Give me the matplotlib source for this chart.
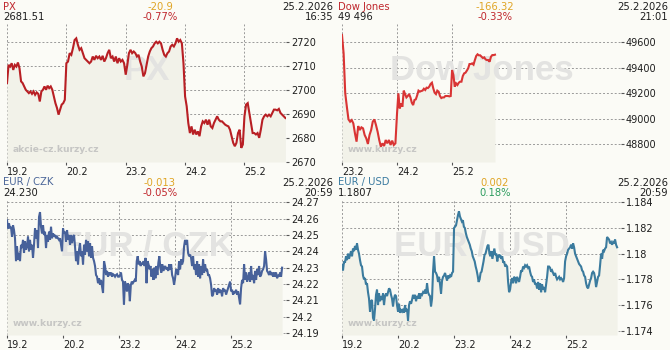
import numpy as np
import matplotlib
matplotlib.use("Agg")
import matplotlib.pyplot as plt
import matplotlib.transforms as mtransforms

# --- PX (one list per trading day) ---
px_days = ["19.2", "20.2", "23.2", "24.2", "25.2"]
px_19 = [2702.8, 2710.4, 2709.7, 2711.1, 2708.3, 2710.4, 2709.7, 2711.4, 2709.0, 2703.5,
         2702.8, 2701.4, 2700.0, 2699.3, 2698.6, 2699.3, 2698.3, 2699.3, 2697.9, 2698.9,
         2698.3, 2695.1, 2699.3, 2700.0, 2701.4, 2700.0, 2701.7, 2700.7, 2701.4, 2700.0,
         2697.2, 2694.4, 2692.4, 2689.6, 2691.7, 2693.8, 2694.4, 2695.8]
px_20 = [2711.1, 2711.8, 2715.3, 2714.6, 2717.4, 2720.8, 2721.5, 2718.8, 2716.7, 2717.4,
         2715.3, 2713.2, 2712.5, 2711.8, 2711.1, 2711.8, 2713.9, 2712.5, 2714.2, 2713.2,
         2713.9, 2712.5, 2714.2, 2711.8, 2713.2, 2715.3, 2716.7, 2713.2, 2713.9, 2711.8,
         2713.9, 2711.1, 2713.2, 2711.8, 2712.5, 2711.1]
px_23 = [2706.3, 2710.4, 2715.3, 2716.7, 2715.3, 2716.0, 2715.3, 2713.9, 2714.6, 2711.8,
         2709.7, 2705.6, 2706.9, 2710.4, 2713.9, 2716.0, 2717.4, 2718.1, 2719.4, 2720.1,
         2719.4, 2720.1, 2719.4, 2716.7, 2714.6, 2713.9, 2715.3, 2716.0, 2718.1, 2718.8,
         2718.1, 2719.4, 2721.5, 2720.1, 2720.8, 2719.4, 2711.1]
px_24 = [2697.2, 2693.1, 2686.1, 2681.9, 2684.7, 2681.3, 2683.3, 2681.3, 2682.6, 2680.6,
         2684.7, 2686.8, 2686.1, 2687.5, 2685.4, 2687.5, 2684.7, 2684.0, 2686.1, 2687.5,
         2688.9, 2687.5, 2686.8, 2686.8, 2686.1, 2685.4, 2685.0, 2684.7, 2683.3, 2680.6,
         2677.8, 2676.4, 2677.8, 2681.9, 2683.3, 2675.7, 2677.1]
px_25 = [2688.9, 2693.8, 2694.4, 2690.3, 2686.1, 2681.9, 2681.9, 2681.3, 2681.9, 2679.9,
         2683.3, 2687.5, 2688.9, 2689.6, 2688.9, 2689.6, 2688.9, 2690.3, 2691.7, 2691.7,
         2691.4, 2692.0, 2690.3, 2689.6, 2688.9, 2688.2]

# --- Dow Jones ---
dj_days = ["23.2", "24.2", "25.2"]
dj_23 = [49655, 49511, 49199, 49094, 48995, 48977, 48990, 48964, 48886, 48821,
         48943, 48912, 48933, 48925, 48873, 48847, 48803, 48873, 48912, 48977,
         48995, 48951, 48899, 48834, 48782, 48808, 48787, 48834, 48808, 48834,
         48795, 48829, 48795, 48808]
dj_24 = [49042, 49199, 49081, 49120, 49094, 49220, 49193, 49167, 49178, 49193,
         49167, 49126, 49107, 49147, 49152, 49183, 49220, 49212, 49217, 49220,
         49235, 49225, 49243, 49240, 49251, 49272, 49282, 49238, 49204, 49193,
         49220, 49212, 49178, 49162, 49167, 49167, 49178, 49178, 49178, 49175, 49178]
dj_25 = [49381, 49342, 49251, 49277, 49264, 49282, 49290, 49290, 49334, 49355,
         49360, 49376, 49394, 49428, 49428, 49433, 49423, 49459, 49491, 49504,
         49496, 49496, 49485, 49475, 49480, 49464, 49459, 49459, 49446, 49485,
         49498, 49498, 49501]

# --- EUR / CZK ---
fx_days = ["19.2", "20.2", "23.2", "24.2", "25.2"]
czk_19 = [24.259, 24.254, 24.257, 24.254, 24.255, 24.249, 24.256, 24.253, 24.248, 24.234,
          24.243, 24.235, 24.239, 24.234, 24.244, 24.242, 24.247, 24.239, 24.246, 24.241,
          24.243, 24.249, 24.240, 24.247, 24.241, 24.244, 24.236, 24.244, 24.254, 24.248,
          24.253, 24.242, 24.261, 24.264, 24.255, 24.251, 24.256, 24.250, 24.252, 24.242,
          24.250, 24.246, 24.252, 24.247, 24.255, 24.248, 24.251, 24.249, 24.250, 24.248,
          24.249, 24.248, 24.247, 24.248, 24.244, 24.240]
czk_20 = [24.254, 24.251, 24.252, 24.246, 24.253, 24.247, 24.250, 24.244, 24.250, 24.245,
          24.249, 24.250, 24.243, 24.234, 24.240, 24.232, 24.241, 24.245, 24.237, 24.240,
          24.232, 24.244, 24.238, 24.247, 24.240, 24.246, 24.237, 24.245, 24.236, 24.243,
          24.236, 24.234, 24.231, 24.2255, 24.2245, 24.2205, 24.2235, 24.2195, 24.2225, 24.2185,
          24.2145, 24.234, 24.231, 24.2255, 24.228, 24.2245, 24.227, 24.2255, 24.227, 24.2245,
          24.226, 24.2255, 24.2245, 24.2255, 24.226, 24.2245]
czk_23 = [24.2245, 24.2255, 24.227, 24.2225, 24.2215, 24.2075, 24.2215, 24.2195, 24.2155, 24.2205,
          24.2185, 24.2095, 24.2195, 24.2215, 24.2205, 24.2215, 24.2225, 24.2215, 24.234, 24.237,
          24.232, 24.234, 24.231, 24.233, 24.232, 24.234, 24.231, 24.236, 24.2205, 24.234,
          24.232, 24.229, 24.231, 24.2245, 24.229, 24.2225, 24.230, 24.2235, 24.231, 24.2255,
          24.233, 24.237, 24.230, 24.227, 24.232, 24.228, 24.230, 24.231, 24.229, 24.230,
          24.228, 24.232, 24.229, 24.232, 24.2255, 24.2235, 24.2195]
czk_24 = [24.2235, 24.229, 24.228, 24.2255, 24.234, 24.229, 24.235, 24.232, 24.234, 24.243,
          24.247, 24.244, 24.247, 24.239, 24.237, 24.238, 24.236, 24.231, 24.237, 24.229,
          24.232, 24.2255, 24.234, 24.2245, 24.232, 24.2235, 24.231, 24.2255, 24.235, 24.227,
          24.232, 24.228, 24.229, 24.2255, 24.2255, 24.2235, 24.2195, 24.2125, 24.2135, 24.2175,
          24.2155, 24.2165, 24.2135, 24.2175, 24.2145, 24.2165, 24.2155, 24.2125, 24.2175, 24.2155,
          24.2165, 24.2135, 24.2155, 24.2175, 24.2195, 24.2215]
czk_25 = [24.2155, 24.2165, 24.2135, 24.2155, 24.2145, 24.2165, 24.2135, 24.2155, 24.2115, 24.2075,
          24.2175, 24.2225, 24.2205, 24.232, 24.2225, 24.227, 24.2215, 24.2235, 24.227, 24.2215,
          24.231, 24.2225, 24.2255, 24.2205, 24.228, 24.2225, 24.229, 24.2255, 24.231, 24.2245,
          24.2255, 24.228, 24.229, 24.231, 24.240, 24.235, 24.228, 24.227, 24.2255, 24.228,
          24.2255, 24.227, 24.2245, 24.227, 24.2245, 24.227, 24.2235, 24.2255, 24.2245, 24.227,
          24.2245, 24.230]

# --- EUR / USD ---
usd_19 = [1.1791, 1.1787, 1.1794, 1.1793, 1.1798, 1.1795, 1.1800, 1.1796, 1.1799, 1.1802,
          1.1798, 1.1804, 1.1802, 1.1806, 1.1803, 1.1808, 1.1803, 1.1800, 1.1795, 1.1791,
          1.1790, 1.1783, 1.1780, 1.1781, 1.1776, 1.1777, 1.1770, 1.1765, 1.1755, 1.1763,
          1.1764, 1.1750, 1.1748, 1.1757, 1.1768, 1.1772, 1.1760, 1.1769, 1.1763, 1.1767,
          1.1764, 1.1769, 1.1760, 1.1767, 1.1769, 1.1767, 1.1770, 1.1773, 1.1772, 1.1768,
          1.1765, 1.1759, 1.1765, 1.1768, 1.1767, 1.1760]
usd_20 = [1.1755, 1.1761, 1.1754, 1.1756, 1.1755, 1.1757, 1.1754, 1.1760, 1.1755, 1.1757,
          1.1748, 1.1760, 1.1763, 1.1761, 1.1764, 1.1768, 1.1765, 1.1768, 1.1763, 1.1767,
          1.1765, 1.1769, 1.1765, 1.1769, 1.1768, 1.1770, 1.1769, 1.1772, 1.1769, 1.1777,
          1.1770, 1.1768, 1.1767, 1.1759, 1.1765, 1.1786, 1.1798, 1.1786, 1.1785, 1.1783,
          1.1778, 1.1782, 1.1776, 1.1769, 1.1779, 1.1782, 1.1783, 1.1785, 1.1782, 1.1779,
          1.1783, 1.1781, 1.1783, 1.1782, 1.1785, 1.1786]
usd_23 = [1.1820, 1.1821, 1.1822, 1.1826, 1.1830, 1.1833, 1.1829, 1.1827, 1.1825, 1.1826,
          1.1821, 1.1820, 1.1816, 1.1813, 1.1811, 1.1809, 1.1807, 1.1804, 1.1802, 1.1798,
          1.1796, 1.1794, 1.1790, 1.1787, 1.1783, 1.1778, 1.1780, 1.1785, 1.1786, 1.1790,
          1.1794, 1.1799, 1.1800, 1.1803, 1.1806, 1.1807, 1.1800, 1.1798, 1.1802, 1.1796,
          1.1800, 1.1804, 1.1799, 1.1800, 1.1794, 1.1799, 1.1798, 1.1799, 1.1796, 1.1798,
          1.1793, 1.1794, 1.1790, 1.1791, 1.1790, 1.1778, 1.1770]
usd_24 = [1.1772, 1.1778, 1.1781, 1.1777, 1.1782, 1.1781, 1.1777, 1.1782, 1.1780, 1.1778,
          1.1782, 1.1787, 1.1786, 1.1790, 1.1789, 1.1791, 1.1790, 1.1791, 1.1789, 1.1790,
          1.1786, 1.1783, 1.1782, 1.1778, 1.1780, 1.1776, 1.1777, 1.1773, 1.1778, 1.1772,
          1.1777, 1.1770, 1.1776, 1.1772, 1.1774, 1.1770, 1.1776, 1.1782, 1.1790, 1.1790,
          1.1789, 1.1786, 1.1787, 1.1785, 1.1783, 1.1785, 1.1782, 1.1780, 1.1781, 1.1782,
          1.1780, 1.1781, 1.1780, 1.1778, 1.1781, 1.1794]
usd_25 = [1.1798, 1.1800, 1.1803, 1.1804, 1.1805, 1.1807, 1.1804, 1.1808, 1.1805, 1.1800,
          1.1798, 1.1796, 1.1794, 1.1792, 1.1791, 1.1790, 1.1787, 1.1786, 1.1783, 1.1782,
          1.1777, 1.1774, 1.1773, 1.1776, 1.1779, 1.1781, 1.1785, 1.1786, 1.1785, 1.1781,
          1.1774, 1.1778, 1.1782, 1.1783, 1.1791, 1.1800, 1.1796, 1.1803, 1.1802, 1.1804,
          1.1805, 1.1813, 1.1812, 1.1811, 1.1808, 1.1809, 1.1807, 1.1809, 1.1808, 1.1811,
          1.1807, 1.1805]

BG = "#fbfbf6"
FILL = "#f2f2e9"
GRID = "#9a9a9a"
ORANGE = "#e0a526"
RED_TXT = "#c0272d"
GREEN_TXT = "#2e9d5f"
DARK = "#1e1e1e"

W, H = 670, 350
fig = plt.figure(figsize=(W / 100, H / 100), dpi=100, facecolor=BG)


def px_box(left, top, right, bottom):
    return [left / W, 1 - bottom / H, (right - left) / W, (bottom - top) / H]


def day_x(days, last_frac):
    xs = []
    for i, vals in enumerate(days):
        if i < len(days) - 1:
            xs.append(i + np.linspace(0, 1, len(vals), endpoint=False))
        else:
            xs.append(i + np.linspace(0, last_frac, len(vals)))
    return np.concatenate(xs), np.concatenate([np.array(v, dtype=float) for v in days])


def draw_panel(box, days, last_frac, labels, xmax, ylim, yticks, color, mark, site):
    ax = fig.add_axes(px_box(*box))
    ax.set_facecolor(BG)
    x, y = day_x(days, last_frac)
    ax.fill_between(x, y, ylim[0], color=FILL, lw=0, zorder=1)
    ax.text(0.5, 0.66, mark, transform=ax.transAxes, ha="center", va="center",
            fontsize=25, fontweight="bold", family="Liberation Sans", color="#e3e3e1", zorder=2)
    ax.text(0.02, 0.07, site, transform=ax.transAxes, ha="left", va="baseline",
            fontsize=6.6, fontweight="bold", color="#c6c6c4", zorder=2)
    ax.plot(x, y, color=color, lw=1.5, zorder=4, solid_joinstyle="miter")
    ax.set_xlim(0, xmax)
    ax.set_ylim(*ylim)
    for s in ax.spines.values():
        s.set_visible(False)
    ax.yaxis.tick_right()
    ax.set_yticks(yticks)
    ax.set_yticklabels([f"{t:g}" for t in yticks])
    ax.set_xticks(range(len(labels)))
    ax.set_xticklabels(labels)
    off = mtransforms.ScaledTranslation(3 / 100, 0, fig.dpi_scale_trans)
    for lab in ax.get_xticklabels():
        lab.set_horizontalalignment("left")
        lab.set_transform(lab.get_transform() + off)
    ax.tick_params(axis="both", colors="#555555", labelcolor=DARK, labelsize=7,
                   length=2.5, width=0.8, pad=1)
    ax.grid(True, color=GRID, ls=(0, (2, 2)), lw=0.7, zorder=0)
    ax.set_axisbelow(True)
    return ax


draw_panel((7, 24, 286, 162), [px_19, px_20, px_23, px_24, px_25], 0.69, px_days, 4.70,
           (2669.8, 2727.5), [2670, 2680, 2690, 2700, 2710, 2720], "#b81f24", "PX",
           "akcie-cz.kurzy.cz")
draw_panel((342, 24, 621, 162), [dj_23, dj_24, dj_25], 0.78, dj_days, 5.07,
           (48662, 49741), [48800, 49000, 49200, 49400, 49600], "#d93434", "Dow Jones",
           "www.kurzy.cz")
draw_panel((7, 200, 286, 335), [czk_19, czk_20, czk_23, czk_24, czk_25], 0.91, fx_days, 4.98,
           (24.1888, 24.2714), [24.19, 24.2, 24.21, 24.22, 24.23, 24.24, 24.25, 24.26, 24.27],
           "#47619a", "EUR / CZK", "www.kurzy.cz")
draw_panel((342, 200, 621, 335), [usd_19, usd_20, usd_23, usd_24, usd_25], 0.91, fx_days, 4.98,
           (1.17367, 1.18418), [1.174, 1.176, 1.178, 1.18, 1.182, 1.184],
           "#3b7b9e", "EUR / USD", "www.kurzy.cz")


def header(x0, y0, name, name_color, last, change, pct, pct_color, date, time):
    def t(x, y, s, c, ha):
        fig.text(x / W, 1 - y / H, s, color=c, ha=ha, va="baseline", fontsize=7.2)
    t(x0 + 3, y0 + 9.5, name, name_color, "left")
    t(x0 + 3, y0 + 20, last, DARK, "left")
    t(x0 + 160, y0 + 9.5, change, ORANGE, "center")
    t(x0 + 160, y0 + 20, pct, pct_color, "center")
    t(x0 + 333, y0 + 9.5, date, DARK, "right")
    t(x0 + 333, y0 + 20, time, DARK, "right")


header(0, 0, "PX", RED_TXT, "2681.51", "-20.9", "-0.77%", RED_TXT, "25.2.2026", "16:35")
header(335, 0, "Dow Jones", RED_TXT, "49 496", "-166.32", "-0.33%", RED_TXT, "25.2.2026", "21:01")
header(0, 176, "EUR / CZK", "#4b6699", "24.230", "-0.013", "-0.05%", RED_TXT, "25.2.2026", "20:59")
header(335, 176, "EUR / USD", "#3a7aa0", "1.1807", "0.002", "0.18%", GREEN_TXT, "25.2.2026", "20:59")

fig.savefig("out.png", dpi=100, facecolor=BG)
